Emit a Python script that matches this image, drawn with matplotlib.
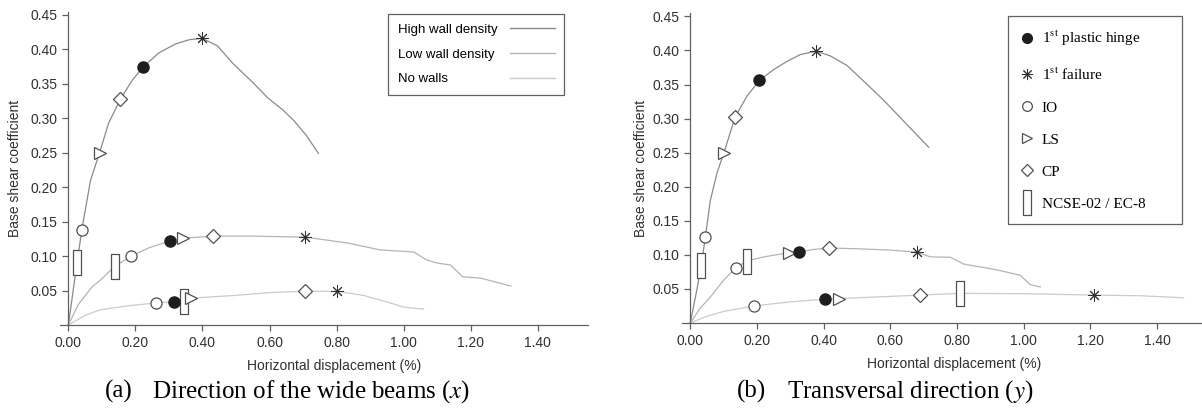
import numpy as np
import matplotlib
matplotlib.use("Agg")
import matplotlib.pyplot as plt
from matplotlib.lines import Line2D

plt.rcParams['font.family'] = ['Liberation Sans', 'DejaVu Sans']
plt.rcParams['mathtext.fontset'] = 'stix'

# ---- panel (a): direction of the wide beams ----
a_high_x = [0, 0.02, 0.04, 0.066, 0.093, 0.12, 0.155, 0.19, 0.224, 0.27, 0.32, 0.36, 0.40,
            0.445, 0.49, 0.55, 0.594, 0.64, 0.672, 0.71, 0.746]
a_high_y = [0, 0.07, 0.138, 0.21, 0.25, 0.293, 0.3275, 0.355, 0.375, 0.395, 0.408, 0.414, 0.416,
            0.405, 0.38, 0.352, 0.330, 0.312, 0.297, 0.275, 0.249]
a_low_x = [0, 0.03, 0.07, 0.095, 0.14, 0.188, 0.24, 0.304, 0.343, 0.43, 0.55, 0.707, 0.833,
           0.93, 1.03, 1.07, 1.10, 1.14, 1.176, 1.23, 1.32]
a_low_y = [0, 0.03, 0.055, 0.065, 0.086, 0.10, 0.112, 0.122, 0.126, 0.129, 0.129, 0.1275, 0.119,
           0.109, 0.106, 0.094, 0.090, 0.087, 0.070, 0.068, 0.0565]
a_none_x = [0, 0.05, 0.095, 0.18, 0.262, 0.314, 0.344, 0.40, 0.5, 0.6, 0.707, 0.80, 0.88,
            0.96, 1.0, 1.06]
a_none_y = [0, 0.014, 0.022, 0.028, 0.032, 0.034, 0.036, 0.040, 0.043, 0.047, 0.049, 0.049, 0.043,
            0.032, 0.026, 0.023]

a_hinge_x, a_hinge_y = [0.224, 0.304, 0.314], [0.375, 0.122, 0.033]
a_fail_x, a_fail_y = [0.40, 0.707, 0.80], [0.416, 0.1275, 0.049]
a_io_x, a_io_y = [0.04, 0.188, 0.262], [0.138, 0.10, 0.032]
a_ls_x, a_ls_y = [0.093, 0.343, 0.366], [0.25, 0.126, 0.039]
a_cp_x, a_cp_y = [0.155, 0.43, 0.707], [0.3275, 0.129, 0.049]
a_nc_x, a_nc_y = [0.027, 0.14, 0.344], [0.092, 0.086, 0.0355]

# ---- panel (b): transversal direction ----
b_high_x = [0, 0.02, 0.033, 0.045, 0.06, 0.08, 0.10, 0.135, 0.17, 0.207, 0.25, 0.29, 0.33, 0.378,
            0.42, 0.47, 0.52, 0.58, 0.66, 0.715]
b_high_y = [0, 0.05, 0.0855, 0.126, 0.18, 0.22, 0.249, 0.303, 0.333, 0.356, 0.372, 0.384, 0.394, 0.399,
            0.392, 0.378, 0.355, 0.327, 0.286, 0.258]
b_low_x = [0, 0.03, 0.06, 0.10, 0.137, 0.17, 0.22, 0.295, 0.325, 0.37, 0.415, 0.5, 0.6, 0.68,
           0.72, 0.78, 0.82, 0.92, 0.99, 1.02, 1.05]
b_low_y = [0, 0.022, 0.038, 0.063, 0.081, 0.091, 0.097, 0.103, 0.104, 0.108, 0.11, 0.109, 0.107, 0.104,
           0.097, 0.0965, 0.0865, 0.078, 0.070, 0.056, 0.053]
b_none_x = [0, 0.05, 0.10, 0.19, 0.3, 0.405, 0.447, 0.55, 0.69, 0.81, 1.0, 1.21, 1.35, 1.48]
b_none_y = [0, 0.01, 0.017, 0.025, 0.031, 0.035, 0.036, 0.038, 0.041, 0.0435, 0.043, 0.041, 0.040, 0.037]

b_hinge_x, b_hinge_y = [0.207, 0.325, 0.405], [0.356, 0.104, 0.035]
b_fail_x, b_fail_y = [0.378, 0.68, 1.21], [0.399, 0.104, 0.041]
b_io_x, b_io_y = [0.045, 0.137, 0.19], [0.126, 0.081, 0.025]
b_ls_x, b_ls_y = [0.10, 0.295, 0.447], [0.249, 0.103, 0.035]
b_cp_x, b_cp_y = [0.135, 0.415, 0.69], [0.303, 0.11, 0.041]
b_nc_x, b_nc_y = [0.033, 0.17, 0.81], [0.0855, 0.091, 0.0435]

x_ticks = [0.0, 0.2, 0.4, 0.6, 0.8, 1.0, 1.2, 1.4]
y_ticks = [0.05, 0.10, 0.15, 0.20, 0.25, 0.30, 0.35, 0.40, 0.45]

line_colors = ['#8a8a8a', '#b4b4b4', '#cbcbcb']
line_labels = ['High wall density', 'Low wall density', 'No walls']
edge = '#505050'
rect_marker = [(-0.14, -0.5), (0.14, -0.5), (0.14, 0.5), (-0.14, 0.5), (-0.14, -0.5)]
asterisk = (8, 2, 0)


def style_axes(ax, xmax):
    ax.set_xlim(-0.025, xmax)
    ax.set_ylim(0, 0.455)
    ax.spines['left'].set_position(('data', 0))
    ax.spines['top'].set_visible(False)
    ax.spines['right'].set_visible(False)
    for s in ('left', 'bottom'):
        ax.spines[s].set_color('#606060')
        ax.spines[s].set_linewidth(0.9)
    ax.set_xticks(x_ticks)
    ax.set_xticklabels([f'{v:.2f}' for v in x_ticks])
    ax.set_yticks(y_ticks)
    ax.set_yticklabels([f'{v:.2f}' for v in y_ticks])
    ax.tick_params(direction='out', length=4, width=0.9, color='#606060',
                   labelsize=10, labelcolor='#303030', pad=4)


def draw_panel(ax, curves, pts):
    for (cx, cy), c in zip(curves, line_colors):
        ax.plot(cx, cy, color=c, lw=0.9, zorder=2)
    (hx, hy), (fx, fy), (ix, iy), (lx, ly), (px, py), (nx, ny) = pts
    ax.plot(nx, ny, ls='none', marker=rect_marker, ms=18, mfc='white', mec=edge, mew=0.9, zorder=3)
    ax.plot(ix, iy, ls='none', marker='o', ms=8, mfc='white', mec=edge, mew=0.9, zorder=3)
    ax.plot(lx, ly, ls='none', marker='>', ms=8, mfc='white', mec=edge, mew=0.9, zorder=3)
    ax.plot(px, py, ls='none', marker='D', ms=7, mfc='white', mec=edge, mew=0.9, zorder=3)
    ax.plot(hx, hy, ls='none', marker='o', ms=8, mfc='#1e1e1e', mec='#1e1e1e', zorder=4)
    ax.plot(fx, fy, ls='none', marker=asterisk, ms=9, mec='#303030', mew=0.7, zorder=4)


fig = plt.figure(figsize=(12.02, 4.16), dpi=100)
ax_a = fig.add_axes([60 / 1202, 91 / 416, 528 / 1202, 313.5 / 416])
ax_b = fig.add_axes([682 / 1202, 93 / 416, 520 / 1202, 310 / 416])

style_axes(ax_a, 1.55)
style_axes(ax_b, 1.535)

draw_panel(ax_a, [(a_high_x, a_high_y), (a_low_x, a_low_y), (a_none_x, a_none_y)],
           [(a_hinge_x, a_hinge_y), (a_fail_x, a_fail_y), (a_io_x, a_io_y),
            (a_ls_x, a_ls_y), (a_cp_x, a_cp_y), (a_nc_x, a_nc_y)])
draw_panel(ax_b, [(b_high_x, b_high_y), (b_low_x, b_low_y), (b_none_x, b_none_y)],
           [(b_hinge_x, b_hinge_y), (b_fail_x, b_fail_y), (b_io_x, b_io_y),
            (b_ls_x, b_ls_y), (b_cp_x, b_cp_y), (b_nc_x, b_nc_y)])

for ax, lx, xx, xy in [(ax_a, -0.072, 0.519, -0.108), (ax_b, -0.065, 0.523, -0.11)]:
    ax.set_ylabel('Base shear coefficient', fontsize=10, color='#303030')
    ax.yaxis.set_label_coords(lx, 0.5)
    ax.set_xlabel('Horizontal displacement (%)', fontsize=10, color='#303030')
    ax.xaxis.set_label_coords(xx, xy)

# legend (a): line styles, text left and line sample right
line_handles = [Line2D([], [], color=c, lw=1.0) for c in line_colors]
leg_a = ax_a.legend(line_handles, line_labels, loc='upper right', bbox_to_anchor=(0.955, 0.992),
                    borderaxespad=0, markerfirst=False, fontsize=9.5, handlelength=3.4,
                    handletextpad=0.8, labelspacing=0.95, borderpad=0.72, fancybox=False,
                    framealpha=1, edgecolor='#606060')
leg_a.get_frame().set_linewidth(0.9)
for row in leg_a._legend_handle_box.get_children()[0].get_children():
    row.mode = 'expand'
    row.width = 157

# legend (b): performance points
mk_handles = [
    Line2D([], [], ls='none', marker='o', ms=7, mfc='#1e1e1e', mec='#1e1e1e'),
    Line2D([], [], ls='none', marker=asterisk, ms=8, mec='#303030', mew=0.7),
    Line2D([], [], ls='none', marker='o', ms=7, mfc='white', mec=edge, mew=0.9),
    Line2D([], [], ls='none', marker='>', ms=7, mfc='white', mec=edge, mew=0.9),
    Line2D([], [], ls='none', marker='D', ms=6.5, mfc='white', mec=edge, mew=0.9),
    Line2D([], [], ls='none', marker=rect_marker, ms=18, mfc='white', mec=edge, mew=0.9),
]
mk_labels = ['1$^{\\mathrm{st}}$ plastic hinge', '1$^{\\mathrm{st}}$ failure', 'IO', 'LS', 'CP',
             'NCSE-02 / EC-8']
leg_b = ax_b.legend(mk_handles, mk_labels, loc='upper left', mode='expand',
                    bbox_to_anchor=(0.627, 0.0, 0.3346, 0.99), borderaxespad=0,
                    prop={'family': 'Liberation Serif', 'size': 11}, handlelength=0.75,
                    handletextpad=0.6, labelspacing=1.2, borderpad=0.85, fancybox=False,
                    framealpha=1, edgecolor='#606060')
leg_b.get_frame().set_linewidth(0.9)

# sub-captions
cap_kw = dict(fontsize=18, family='Liberation Serif', va='center', ha='left')
fig.text(105 / 1202, 0.058, '(a)', **cap_kw)
fig.text(152 / 1202, 0.058, 'Direction of the wide beams ($x$)', **cap_kw)
fig.text(737 / 1202, 0.058, '(b)', **cap_kw)
fig.text(787 / 1202, 0.058, 'Transversal direction ($y$)', **cap_kw)

fig.savefig('out.png', dpi=100)
